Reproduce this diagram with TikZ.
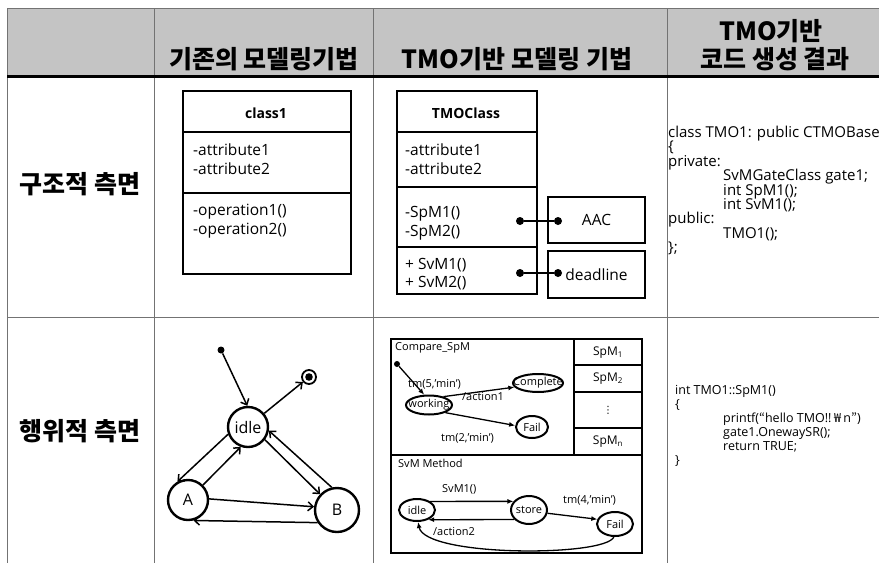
\documentclass[tikz,border=0pt]{standalone}
\usepackage{fontspec}
\setmainfont{Open Sans}
\newfontfamily\krfont{Noto Sans CJK KR}
\newfontfamily\symfont{DejaVu Sans}
\usetikzlibrary{shapes.geometric,arrows.meta,calc}

\begin{document}
\begin{tikzpicture}[x=1pt,y=-1pt,
  hdrtext/.style={font=\krfont\bfseries\fontsize{25}{29}\selectfont, anchor=base, inner sep=0pt},
  gridline/.style={draw=black!55, line width=0.8pt},
  classbox/.style={draw, line width=2.4pt, anchor=north west, inner sep=0pt},
  sepline/.style={line width=1.4pt},
  umltext/.style={font=\fontsize{15.5}{18}\selectfont, anchor=base west, inner sep=0pt},
  umltitle/.style={font=\bfseries\fontsize{14}{17}\selectfont, anchor=base, inner sep=0pt},
  sidebox/.style={draw, line width=2.4pt, font=\fontsize{15.5}{18}\selectfont, inner sep=0pt},
  joint/.style={circle, fill, inner sep=0pt, minimum size=8pt},
  codetext/.style={font=\fontsize{15}{18}\selectfont, anchor=base west, inner sep=0pt},
  bodytext/.style={font=\fontsize{12.5}{15}\selectfont, anchor=base west, inner sep=0pt},
  bigstate/.style={circle, draw, line width=2.4pt, inner sep=0pt, font=\fontsize{16}{18}\selectfont},
  startdot/.style={circle, fill, inner sep=0pt, minimum size=7pt},
  barrow/.style={-{Straight Barb[length=5pt,width=9pt]}, line width=1.5pt},
  smallstate/.style={ellipse, draw, line width=2pt, inner sep=0pt},
  smalltext/.style={font=\fontsize{11}{13}\selectfont, inner sep=0pt},
  celltext/.style={font=\fontsize{12}{14}\selectfont, inner sep=0pt},
  larrow/.style={-{Latex[length=6pt,width=5pt]}, line width=1.3pt}
]
\useasboundingbox (0,0) rectangle (879,563);

% header band
\fill[black!23] (7,8) rectangle (879,76);

% table rules
\draw[gridline] (7,8) -- (879,8);
\draw[gridline] (7,8) -- (7,563);
\draw[gridline] (154,8) -- (154,563);
\draw[gridline] (373,8) -- (373,563);
\draw[gridline] (667,8) -- (667,563);
\draw[gridline] (7,317) -- (879,317);
\draw[line width=3pt] (7,76) -- (879,76);

% column and row headings
\node[hdrtext] (h1) at (264,68.5) {기존의 모델링기법};
\node[hdrtext] (h2) at (517,68.5) {TMO기반 모델링 기법};
\node[hdrtext] (h3a) at (771,40) {TMO기반};
\node[hdrtext] (h3b) at (775,68.5) {코드 생성 결과};
\node[hdrtext] (r1) at (80,193) {구조적 측면};
\node[hdrtext] (r2) at (80,440) {행위적 측면};

% ---- plain class ----
\node[classbox, minimum width=168pt, minimum height=183pt] (cls1) at (182,90) {};
\draw[sepline] ($(cls1.north west)+(0,42)$) -- ($(cls1.north east)+(0,42)$);
\draw[sepline] ($(cls1.north west)+(0,103)$) -- ($(cls1.north east)+(0,103)$);
\node[umltitle] (cls1n) at (266,118) {class1};
\node[umltext] (cls1a) at (193,155) {-attribute1};
\node[umltext] (cls1b) at (193,174) {-attribute2};
\node[umltext] (cls1c) at (193,215) {-operation1()};
\node[umltext] (cls1d) at (193,234) {-operation2()};

% ---- TMO class ----
\node[classbox, minimum width=140pt, minimum height=203pt] (tmo) at (396,90) {};
\draw[sepline] ($(tmo.north west)+(0,42)$) -- ($(tmo.north east)+(0,42)$);
\draw[sepline] ($(tmo.north west)+(0,97)$) -- ($(tmo.north east)+(0,97)$);
\draw[sepline] ($(tmo.north west)+(0,157)$) -- ($(tmo.north east)+(0,157)$);
\node[umltitle] (tmon) at (466,118) {TMOClass};
\node[umltext] (tmoa) at (405,155) {-attribute1};
\node[umltext] (tmob) at (405,174) {-attribute2};
\node[umltext] (tmoc) at (405,217) {-SpM1()};
\node[umltext] (tmod) at (405,236) {-SpM2()};
\node[umltext] (tmoe) at (405,269) {+ SvM1()};
\node[umltext] (tmof) at (405,287) {+ SvM2()};

\node[sidebox, minimum width=97pt, minimum height=46pt] (aac) at (596.5,220) {AAC};
\node[sidebox, minimum width=97pt, minimum height=47pt] (dl) at (596.5,274.5) {deadline};
\node[joint] (j1) at (520,221) {};
\node[joint] (j2) at (558,221) {};
\node[joint] (j3) at (520,273) {};
\node[joint] (j4) at (558,273) {};
\draw[line width=1.4pt] (j1) -- (j2);
\draw[line width=1.4pt] (j3) -- (j4);

% ---- generated class declaration ----
\node[codetext] (k1) at (668,137) {class TMO1: public CTMOBase};
\node[codetext] (k2) at (668,151.5) {\{};
\node[codetext] (k3) at (668,166) {private:};
\node[codetext] (k4) at (723,180) {SvMGateClass gate1;};
\node[codetext] (k5) at (723,195) {int SpM1();};
\node[codetext] (k6) at (723,209) {int SvM1();};
\node[codetext] (k7) at (668,223.5) {public:};
\node[codetext] (k8) at (723,238) {TMO1();};
\node[codetext] (k9) at (668,252) {\};};

% ---- plain state machine ----
\node[startdot] (ini) at (221,350) {};
\node[bigstate, minimum size=40pt] (idle) at (248,427) {idle};
\node[bigstate, minimum size=40pt] (sa) at (188,500) {A};
\node[bigstate, minimum size=44pt] (sb) at (337,510) {B};
\node[circle, draw, line width=1.8pt, minimum size=14pt, inner sep=0pt,
      path picture={\fill (path picture bounding box.center) circle (3.8pt);}] (fin) at (309,377) {};
\draw[barrow] (ini) -- (idle.92);
\draw[barrow] (idle.40) -- (fin);
\draw[barrow] (idle.200) -- (sa.120);
\draw[barrow] (sa.45) -- (idle.250);
\draw[barrow] (idle.323) -- (sb.137);
\draw[barrow] (sb.103) -- (idle.350);
\draw[barrow] (sa.3) -- (sb.172);
\draw[barrow] (sb.213) -- (sa.285);

% ---- TMO state machine ----
\draw[line width=2.4pt] (391,339) rectangle (642,553);
\draw[line width=2pt] (391,455) -- (642,455);
\draw[line width=1.5pt] (574,339) -- (574,455);
\foreach \yy in {365,392,428} \draw[line width=1.5pt] (574,\yy) -- (642,\yy);
\node[celltext] (s1) at (608,353) {SpM\textsubscript{1}};
\node[celltext] (s2) at (608,378.5) {SpM\textsubscript{2}};
\node[celltext] (s3) at (608,410) {\symfont\fontsize{10}{12}\selectfont ⋮};
\node[celltext] (s4) at (608,441.5) {SpM\textsubscript{n}};

\node[smalltext, anchor=base west] (cmpname) at (395,350) {Compare\_SpM};
\node[startdot, minimum size=6pt] (ini2) at (397,364) {};
\node[smallstate, minimum width=46pt, minimum height=19pt] (work) at (429,405) {};
\node[smalltext] (workt) at (work) {working};
\node[smallstate, minimum width=50pt, minimum height=18pt] (cmpl) at (538,383) {};
\node[smalltext] (cmplt) at (cmpl) {Complete};
\node[smallstate, minimum width=32pt, minimum height=22pt] (fail1) at (532,427) {};
\node[smalltext] (fail1t) at (fail1) {Fail};
\draw[larrow] (ini2) -- (work.115);
\draw[larrow] (work.30) -- (cmpl.190);
\draw[larrow] (work.335) -- (fail1.175);
\node[smalltext, anchor=base west] (lb1) at (408,387) {tm(5,'min')};
\node[smalltext, anchor=base west] (lb2) at (462,400) {/action1};
\node[smalltext, anchor=base west] (lb3) at (441,441) {tm(2,'min')};

\node[smalltext, anchor=base west] (svmname) at (398,467) {SvM Method};
\node[smallstate, minimum width=36pt, minimum height=22pt] (idle2) at (417,510) {};
\node[smalltext] (idle2t) at (idle2) {idle};
\node[smallstate, minimum width=36pt, minimum height=28pt] (store) at (529,510) {};
\node[smalltext] (storet) at (store) {store};
\node[smallstate, minimum width=36pt, minimum height=24pt] (fail2) at (615,524) {};
\node[smalltext] (fail2t) at (fail2) {Fail};
\draw[larrow] (idle2.33) -- (store.151.6);
\draw[larrow] (store.213) -- (idle2.319);
\draw[larrow] (store.350) -- (fail2.165);
\draw[larrow] (fail2.265) .. controls (605,557) and (425,557) .. (idle2.275);
\node[smalltext, anchor=base west] (lb4) at (442,492) {SvM1()};
\node[smalltext, anchor=base west] (lb5) at (433,535) {/action2};
\node[smalltext, anchor=base west] (lb6) at (563,503) {tm(4,'min')};

% ---- generated method body ----
\node[bodytext] (m1) at (675,394) {int TMO1::SpM1()};
\node[bodytext] (m2) at (675,408) {\{};
\node[bodytext] (m3) at (723,422) {printf({\krfont “}hello TMO!!\makebox[12pt][c]{\krfont ₩}n{\krfont ”})};
\node[bodytext] (m4) at (723,436) {gate1.OnewaySR();};
\node[bodytext] (m5) at (723,450) {return TRUE;};
\node[bodytext] (m6) at (675,464) {\}};
\end{tikzpicture}
\end{document}
